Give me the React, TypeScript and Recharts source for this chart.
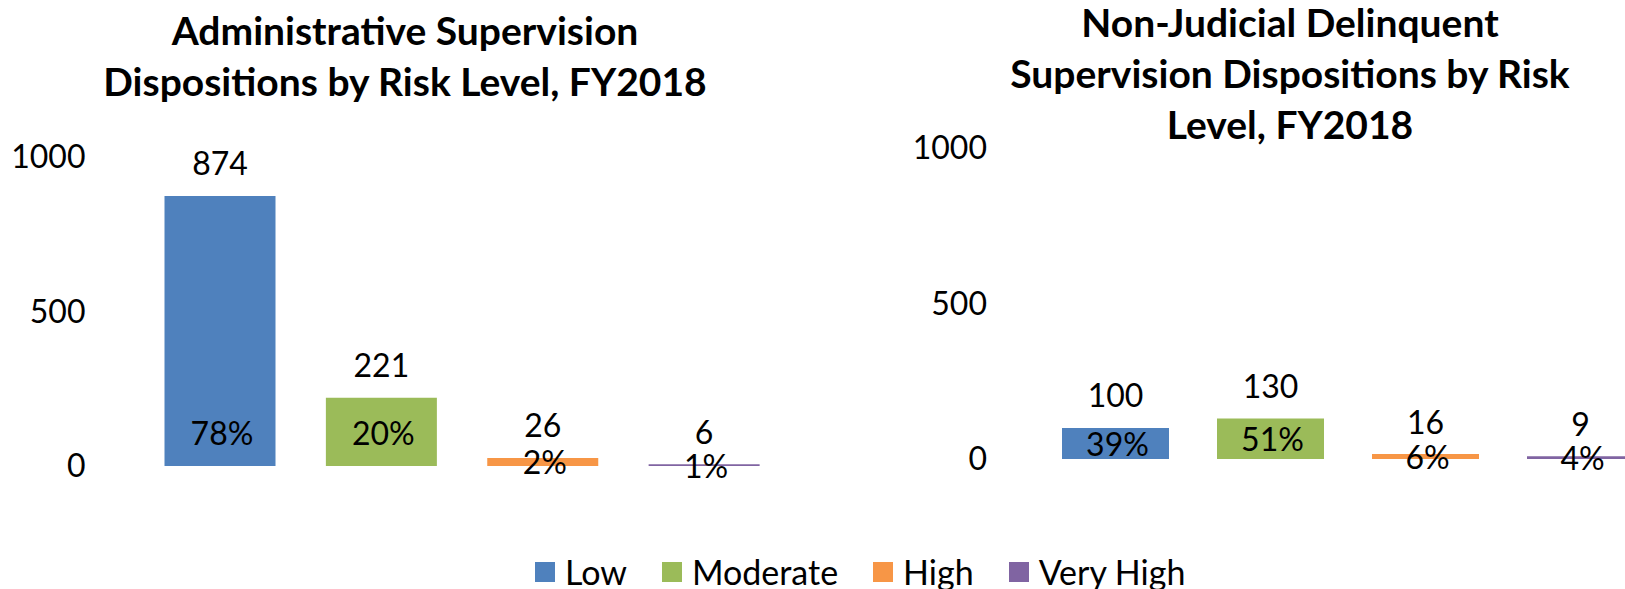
import React from 'react';
import { BarChart, Bar, XAxis, YAxis, Cell, LabelList } from 'recharts';

const categories = ['Low', 'Moderate', 'High', 'Very High'];
const colors = ['#4F81BD', '#9BBB59', '#F79646', '#8064A2'];
const adminCounts = [874, 221, 26, 6];
const adminShares = ['78%', '20%', '2%', '1%'];
const nonJudicialCounts = [100, 130, 16, 9];
const nonJudicialShares = ['39%', '51%', '6%', '4%'];
const yTicks = [0, 500, 1000];
const adminTitle = ['Administrative Supervision', 'Dispositions by Risk Level, FY2018'];
const nonJudicialTitle = ['Non-Judicial Delinquent', 'Supervision Dispositions by Risk', 'Level, FY2018'];

const FONT = 'Lato, Carlito, Calibri, sans-serif';

interface RiskChartProps {
  counts: number[];
  shares: string[];
  left: number;
  width: number;
  margin: { top: number; right: number; bottom: number; left: number };
  barSize: number;
  labelGap: number;
}

function RiskChart({ counts, shares, left, width, margin, barSize, labelGap }: RiskChartProps) {
  const data = categories.map((name, i) => ({ name, value: counts[i], share: shares[i] }));

  return (
    <div style={{ position: 'absolute', left, top: 0 }}>
      <BarChart width={width} height={589} data={data} margin={margin}>
        <XAxis dataKey="name" hide />
        <YAxis
          domain={[0, 1000]}
          ticks={yTicks}
          width={60}
          axisLine={false}
          tickLine={false}
          tickSize={0}
          tickMargin={labelGap}
          tick={{ fill: '#000', fontSize: 32, fontFamily: FONT }}
        />
        <Bar dataKey="value" barSize={barSize} isAnimationActive={false}>
          {data.map((d, i) => (
            <Cell key={d.name} fill={colors[i]} />
          ))}
          <LabelList
            dataKey="value"
            content={(p: any) => (
              <text
                x={p.x + p.width / 2}
                y={p.y - 33}
                textAnchor="middle"
                dominantBaseline="central"
                fontSize={32}
                fontFamily={FONT}
                fill="#000"
              >
                {p.value}
              </text>
            )}
          />
          <LabelList
            dataKey="share"
            content={(p: any) => {
              const base = p.y + p.height;
              const cy = Math.max(base - 34, p.y + p.height / 2);
              return (
                <text
                  x={p.x + p.width / 2 + 2}
                  y={cy}
                  textAnchor="middle"
                  dominantBaseline="central"
                  fontSize={32}
                  fontFamily={FONT}
                  fill="#000"
                >
                  {p.value}
                </text>
              );
            }}
          />
        </Bar>
      </BarChart>
    </div>
  );
}

function Title({ lines, centerX, top }: { lines: string[]; centerX: number; top: number }) {
  return (
    <div
      style={{
        position: 'absolute',
        left: centerX - 400,
        width: 800,
        top,
        textAlign: 'center',
        fontFamily: FONT,
        fontWeight: 700,
        fontSize: 39,
        lineHeight: '51px',
        color: '#000',
        whiteSpace: 'nowrap',
      }}
    >
      {lines.map((l) => (
        <div key={l}>{l}</div>
      ))}
    </div>
  );
}

export default function App() {
  return (
    <div
      style={{
        position: 'absolute',
        left: 0,
        top: 0,
        width: 1625,
        height: 589,
        overflow: 'hidden',
        background: '#fff',
      }}
    >
      <RiskChart
        counts={adminCounts}
        shares={adminShares}
        left={0}
        width={812}
        margin={{ top: 157, right: 27, bottom: 123, left: 79.5 }}
        barSize={111}
        labelGap={54}
      />
      <RiskChart
        counts={nonJudicialCounts}
        shares={nonJudicialShares}
        left={812}
        width={846}
        margin={{ top: 148, right: 0, bottom: 130, left: 166 }}
        barSize={107}
        labelGap={51}
      />
      <Title lines={adminTitle} centerX={405} top={5} />
      <Title lines={nonJudicialTitle} centerX={1290} top={-3} />
      <div
        style={{
          position: 'absolute',
          left: 535,
          top: 551,
          display: 'flex',
          alignItems: 'center',
          fontFamily: FONT,
          fontSize: 34,
          lineHeight: '42px',
          color: '#000',
          whiteSpace: 'nowrap',
        }}
      >
        {categories.map((c, i) => (
          <div key={c} style={{ display: 'flex', alignItems: 'center', marginRight: 35 }}>
            <span style={{ display: 'inline-block', width: 20, height: 20, background: colors[i], marginRight: 10 }} />
            <span>{c}</span>
          </div>
        ))}
      </div>
    </div>
  );
}
